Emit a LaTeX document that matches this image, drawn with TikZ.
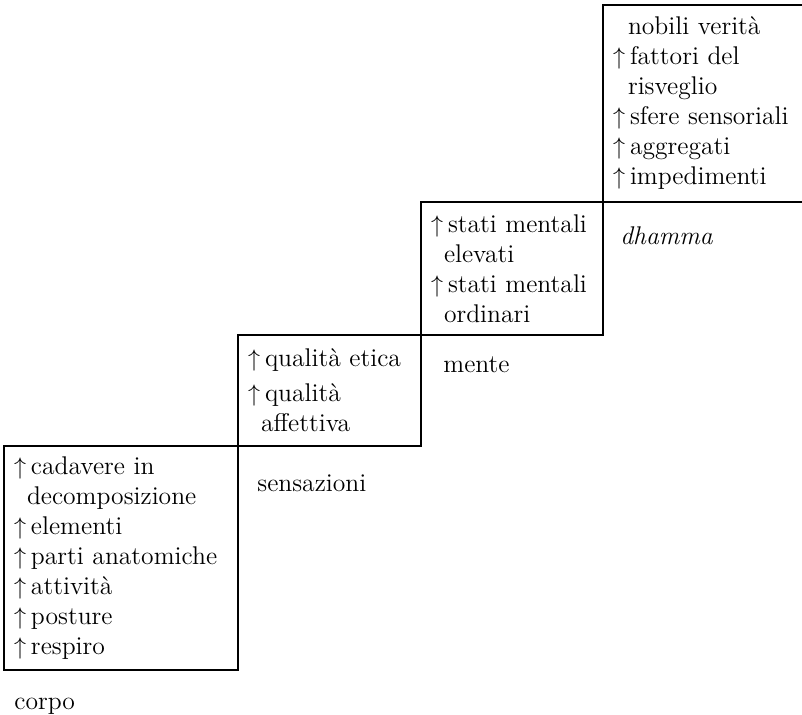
\documentclass[tikz,border=0pt]{standalone}
\usepackage{fontspec}
\usetikzlibrary{positioning}
\newcommand{\upitem}{\makebox[8.5pt][l]{$\uparrow$}}
\newcommand{\wrapin}{\hspace*{6.5pt}}

\begin{document}
\begin{tikzpicture}[
    font=\fontsize{12.8pt}{15pt}\selectfont,
    stepbox/.style={draw, line width=1pt, outer sep=0pt, inner xsep=5pt, inner ysep=0pt, align=left},
    steplabel/.style={inner sep=0pt}]
  \useasboundingbox (0,0) rectangle (401pt,357pt);
  % the four steps, each sitting on the corner of the one below
  \node [stepbox, anchor=south west, text width=107pt, minimum height=112pt] (corpo) at (2pt,22pt)
    {\upitem cadavere in\\ \wrapin decomposizione\\ \upitem elementi\\ \upitem parti anatomiche\\
     \upitem attività\\ \upitem posture\\ \upitem respiro};
  \node [stepbox, above right=0pt and 0pt of corpo.north east, text width=81.5pt, minimum height=55.5pt] (sensazioni)
    {\upitem qualità etica\\[2.5pt] \upitem qualità\\ \wrapin affettiva};
  \node [stepbox, above right=0pt and 0pt of sensazioni.north east, text width=81pt, minimum height=66.5pt] (mente)
    {\upitem stati mentali\\ \wrapin elevati\\ \upitem stati mentali\\ \wrapin ordinari};
  \node [stepbox, above right=0pt and 0pt of mente.north east, text width=110pt, minimum height=98.5pt] (dhamma)
    {\hspace*{7.5pt}nobili verità\\ \upitem fattori del\\ \hspace*{7.5pt}risveglio\\ \upitem sfere sensoriali\\
     \upitem aggregati\\ \upitem impedimenti};
  % names under each step
  \node [steplabel, below right=19.5pt and 5pt of corpo.south west, anchor=base west] (corpolbl) {corpo};
  \node [steplabel, below right=22.5pt and 9.5pt of sensazioni.south west, anchor=base west] (sensazionilbl) {sensazioni};
  \node [steplabel, below right=18.5pt and 11pt of mente.south west, anchor=base west] (mentelbl) {mente};
  \node [steplabel, below right=21pt and 8.5pt of dhamma.south west, anchor=base west] (dhammalbl) {\itshape dhamma};
\end{tikzpicture}
\end{document}
